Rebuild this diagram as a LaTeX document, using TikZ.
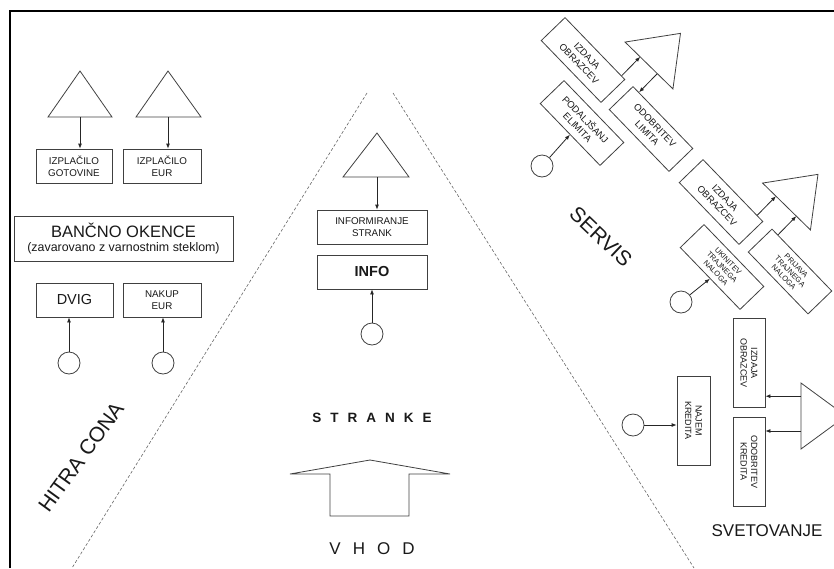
\documentclass[tikz,border=0pt]{standalone}
\usepackage{fontspec}
\setmainfont{Liberation Sans}
\usetikzlibrary{arrows.meta,calc}

\begin{document}
\begin{tikzpicture}[x=1pt,y=-1pt,
  every node/.style={font=\fontsize{9.8}{12.3}\selectfont, text=black!90, align=center, inner sep=0pt},
  box/.style={draw=black!75, line width=0.8pt, fill=white},
  tri/.style={draw=black!75, line width=0.8pt},
  ring/.style={circle, draw=black!75, line width=0.8pt, minimum size=22pt},
  arr/.style={draw=black!85, line width=0.8pt, -{Latex[length=5pt,width=4pt]}},
  zone/.style={draw=black!60, line width=0.6pt, dash pattern=on 3pt off 2pt},
  tilted/.style={box, rotate=-46, minimum width=86pt, minimum height=33pt, font=\fontsize{9.5}{11}\selectfont},
  tilted3/.style={tilted, font=\fontsize{7.5}{8.5}\selectfont},
  upright/.style={box, rotate=-90, minimum width=89pt, minimum height=32pt, font=\fontsize{9}{10.5}\selectfont},
]
\useasboundingbox (0,0) rectangle (834,568);
\clip (0,0) rectangle (834,568);

% frame
\draw[line width=2pt] (10,568) -- (10,11) -- (834,11);

% zone boundaries
\draw[zone] (367,93) -- (72,568);
\draw[zone] (393,93) -- (694,568);

% ---------- fast zone ----------
\draw[tri] (48,117) -- (80,71) -- (112,117) -- cycle;
\coordinate (tA) at (80,117);
\draw[tri] (136,117) -- (168,71) -- (201,117) -- cycle;
\coordinate (tB) at (168,117);

\node[box, minimum width=76pt, minimum height=34pt] (gotov) at (74,166) {IZPLAČILO\\GOTOVINE};
\node[box, minimum width=78pt, minimum height=34pt] (eurout) at (162,166) {IZPLAČILO\\EUR};
\draw[arr] (tA) -- (tA |- gotov.north);
\draw[arr] (tB) -- (tB |- eurout.north);

\node[box, minimum width=219pt, minimum height=45pt, font=\fontsize{12.4}{14.5}\selectfont] (bank) at (123.5,238.5)
  {{\fontsize{16.5}{14}\selectfont BANČNO OKENCE}\\(zavarovano z varnostnim steklom)};

\node[box, minimum width=77pt, minimum height=34pt, font=\fontsize{14.5}{16}\selectfont] (dvig) at (74.5,300) {DVIG};
\node[box, minimum width=78pt, minimum height=34pt] (eurin) at (162,300) {NAKUP\\EUR};
\node[ring] (cA) at (69,363) {};
\node[ring] (cB) at (163,363) {};
\draw[arr] (cA) -- (cA |- dvig.south);
\draw[arr] (cB) -- (cB |- eurin.south);

\node[font=\fontsize{21}{22}\selectfont, rotate=54] (hitra) at (81,457) {HITRA CONA};

% ---------- customers ----------
\draw[tri] (343,177) -- (377,133) -- (409,177) -- cycle;
\coordinate (tC) at (377,177);
\node[box, minimum width=110pt, minimum height=34pt] (inform) at (372,227) {INFORMIRANJE\\STRANK};
\node[box, minimum width=110pt, minimum height=34pt, font=\bfseries\fontsize{14.5}{16}\selectfont] (info) at (372,272) {INFO};
\node[ring] (cC) at (372,334) {};
\draw[arr] (tC) -- (tC |- inform.north);
\draw[arr] (cC) -- (info.south);

\node[font=\bfseries\fontsize{13.5}{14}\selectfont] (stranke) at (372,418)
  {S\hspace{9pt}T\hspace{9pt}R\hspace{9pt}A\hspace{9pt}N\hspace{9pt}K\hspace{9pt}E};
\draw[tri] (290,474) -- (370,460) -- (450,474) -- (409,474) -- (409,516) -- (330,516) -- (330,474) -- cycle;
\node[font=\fontsize{17}{18}\selectfont] (vhod) at (372,549) {V\hspace{12pt}H\hspace{12pt}O\hspace{12pt}D};

% ---------- service ----------
\node[tilted] (izA) at (583,60) {IZDAJA\\OBRAZCEV};
\node[tilted] (odl) at (651,129) {ODOBRITEV\\LIMITA};
\node[tilted] (pod) at (582,123) {PODALJŠANJ\\ELIMITA};
\begin{scope}[shift={(649,65.5)}, rotate=-44.4]
  \draw[tri] (-33.5,0) coordinate (tDa) -- (0,-45) -- (33.5,0) coordinate (tDb) -- cycle;
\end{scope}
\coordinate (p1) at ($(izA.north east)!0.06!(izA.north west)$);
\coordinate (p2) at ($(odl.north west)!0.1!(odl.north east)$);
\draw[arr] (p1) -- ($(tDa)!(p1)!(tDb)$);
\draw[arr] ($(tDa)!(p2)!(tDb)$) -- (p2);
\node[ring] (cD) at (542,166) {};
\draw[arr] (cD) -- (pod.south);

\node[tilted] (izB) at (721,202) {IZDAJA\\OBRAZCEV};
\node[tilted3] (ukin) at (722,267) {UKINITEV\\TRAJNEGA\\NALOGA};
\node[tilted3] (prij) at (790,271.5) {PRIJAVA\\TRAJNEGA\\NALOGA};
\begin{scope}[shift={(786.5,206.5)}, rotate=-44.4]
  \draw[tri] (-33.5,0) coordinate (tEa) -- (0,-45) -- (33.5,0) coordinate (tEb) -- cycle;
\end{scope}
\coordinate (p3) at ($(izB.north east)!0.1!(izB.north west)$);
\coordinate (p4) at ($(prij.north west)!0.1!(prij.north east)$);
\draw[arr] (p3) -- ($(tEa)!(p3)!(tEb)$);
\draw[arr] (p4) -- ($(tEa)!(p4)!(tEb)$);
\node[ring] (cE) at (681,302) {};
\draw[arr] (cE) -- (ukin.south);

\node[font=\fontsize{21}{22}\selectfont, rotate=-43.5] (servis) at (601,237) {SERVIS};

% ---------- advice ----------
\node[upright] (izC) at (749,363) {IZDAJA\\OBRAZCEV};
\node[upright] (odk) at (749,461.5) {ODOBRITEV\\KREDITA};
\node[upright, minimum height=33pt] (najem) at (693.5,420.5) {NAJEM\\KREDITA};
\draw[tri] (801,383) coordinate (tFa) -- (846,416) -- (801,449) coordinate (tFb) -- cycle;
\coordinate (q1) at ($(tFa)!0.2!(tFb)$);
\coordinate (q2) at ($(tFa)!0.727!(tFb)$);
\draw[arr] (q1) -- (q1 -| izC.north);
\draw[arr] (q2) -- (q2 -| odk.north);
\node[ring] (cF) at (633,425) {};
\draw[arr] (cF) -- (cF -| najem.south);

\node[font=\fontsize{17}{18}\selectfont] (svet) at (767,531) {SVETOVANJE};
\end{tikzpicture}
\end{document}
